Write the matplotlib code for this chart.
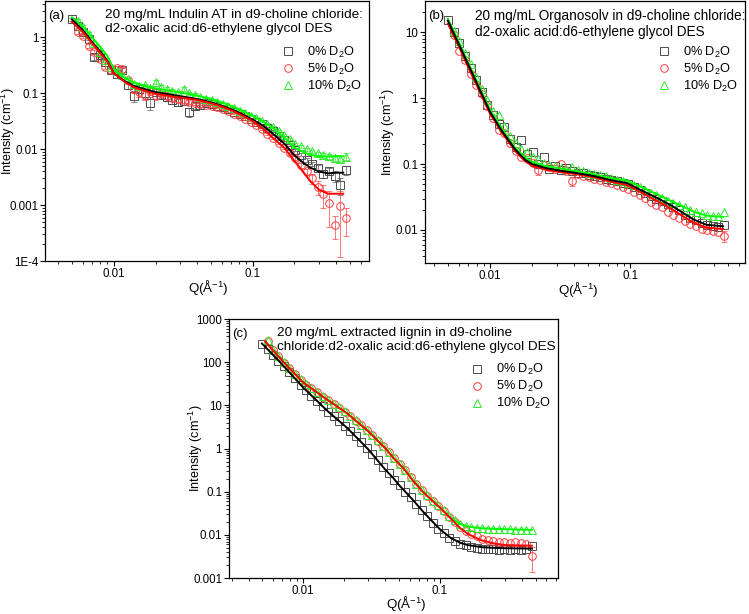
import numpy as np
import matplotlib
matplotlib.use("Agg")
import matplotlib.pyplot as plt
from matplotlib.ticker import LogLocator, FixedLocator, FixedFormatter, NullFormatter

plt.rcParams['font.family'] = ['Liberation Sans', 'DejaVu Sans']
plt.rcParams['mathtext.default'] = 'regular'

nan = np.nan

# Q grid of the measured points (1/A), shared by all panels
q = [0.0050, 0.00549, 0.00602, 0.00660, 0.00725, 0.00795, 0.00872, 0.00957, 0.0105, 0.0115,
     0.0126, 0.0139, 0.0152, 0.0167, 0.0183, 0.0201, 0.0220, 0.0242, 0.0265, 0.0291,
     0.0319, 0.0350, 0.0384, 0.0421, 0.0462, 0.0507, 0.0556, 0.0610, 0.0669, 0.0734,
     0.0806, 0.0884, 0.0970, 0.1064, 0.1167, 0.1281, 0.1405, 0.1541, 0.1691, 0.1855,
     0.2035, 0.2233, 0.2450, 0.2688, 0.2949, 0.3235, 0.3549, 0.3894, 0.4272, 0.4687]

labels = ["0% D$_2$O", "5% D$_2$O", "10% D$_2$O"]

# ---- panel (a): Indulin AT ----
a_black = [2.1, 1.6, 1.25, 0.95, 0.45, 0.48, 0.36, 0.26, 0.22, 0.26,
           0.14, 0.090, 0.12, 0.10, 0.068, 0.105, 0.095, 0.085, 0.075, 0.070,
           0.072, 0.046, 0.060, 0.062, 0.066, 0.064, 0.060, 0.056, 0.052, 0.047,
           0.043, 0.039, 0.035, 0.031, 0.028, 0.024, 0.021, 0.017, 0.0145, 0.012,
           0.0098, 0.0080, 0.0065, 0.0055, 0.0047, 0.0036, 0.0040, 0.0033, 0.0023, 0.0043]
a_black_err = [0.15, 0.1, 0.08, 0.06, 0.05, 0.04, 0.03, 0.03, 0.03, 0.03,
               0.02, 0.02, 0.02, 0.02, 0.018, 0.015, 0.012, 0.012, 0.01, 0.01,
               0.01, 0.009, 0.008, 0.006, 0.004, 0.003, 0.002, 0.002, 0.0015, 0.0015,
               0.001, 0.001, 0.001, 0.001, 0.0008, 0.0008, 0.0007, 0.0006, 0.0005, 0.0005,
               0.0005, 0.0005, 0.0005, 0.0005, 0.0005, 0.0006, 0.0006, 0.0007, 0.0008, 0.0008]
a_red = [nan, 1.25, 1.05, 0.70, 0.55, 0.42, 0.30, 0.26, 0.28, 0.27,
         0.17, 0.12, 0.105, 0.095, 0.110, 0.090, 0.100, 0.088, 0.082, 0.078,
         0.074, 0.071, 0.068, 0.065, 0.062, 0.060, 0.056, 0.052, 0.048, 0.043,
         0.039, 0.035, 0.031, 0.027, 0.023, 0.019, 0.016, 0.013, 0.0105, 0.0085,
         0.0070, 0.0052, 0.0040, 0.0030, 0.0021, 0.0016, 0.0011, 0.00045, 0.00095, 0.00058]
a_red_err = [0, 0.1, 0.08, 0.06, 0.05, 0.04, 0.03, 0.03, 0.03, 0.03,
             0.02, 0.02, 0.02, 0.02, 0.015, 0.012, 0.012, 0.01, 0.01, 0.008,
             0.008, 0.006, 0.005, 0.004, 0.003, 0.002, 0.002, 0.0015, 0.0015, 0.001,
             0.001, 0.001, 0.001, 0.0008, 0.0008, 0.0007, 0.0006, 0.0006, 0.0005, 0.0005,
             0.0005, 0.0005, 0.0005, 0.0006, 0.0006, 0.0007, 0.0007, 0.0002, 0.00083, 0.0003]
a_green = [nan, 2.0, 1.55, 1.15, 0.80, 0.55, 0.40, 0.30, 0.25, 0.21,
           0.18, 0.15, 0.135, 0.14, 0.125, 0.16, 0.13, 0.12, 0.11, 0.105,
           0.12, 0.10, 0.095, 0.085, 0.080, 0.075, 0.069, 0.064, 0.059, 0.054,
           0.049, 0.044, 0.040, 0.036, 0.032, 0.028, 0.025, 0.021, 0.018, 0.015,
           0.0125, 0.0112, 0.0100, 0.0092, 0.0085, 0.0078, 0.0075, 0.0070, 0.0068, 0.0074]
a_green_err = [0, 0.15, 0.1, 0.08, 0.06, 0.04, 0.03, 0.02, 0.02, 0.015,
               0.012, 0.01, 0.01, 0.01, 0.01, 0.012, 0.01, 0.008, 0.008, 0.007,
               0.008, 0.007, 0.006, 0.005, 0.004, 0.003, 0.003, 0.002, 0.002, 0.002,
               0.0015, 0.0015, 0.0012, 0.0012, 0.001, 0.001, 0.0009, 0.0008, 0.0007, 0.0006,
               0.0006, 0.0006, 0.0006, 0.0006, 0.0006, 0.0007, 0.0007, 0.0008, 0.0009, 0.001]

a_fit_q = [0.005, 0.006, 0.007, 0.008, 0.009, 0.010, 0.012, 0.014, 0.017, 0.020,
           0.025, 0.030, 0.035, 0.040, 0.050, 0.060, 0.070, 0.080, 0.10, 0.12,
           0.14, 0.17, 0.20, 0.23, 0.26, 0.30, 0.35, 0.40, 0.45]
a_fit_black = [2.1, 1.35, 0.82, 0.56, 0.38, 0.23, 0.165, 0.135, 0.118, 0.105,
               0.096, 0.089, 0.084, 0.079, 0.069, 0.060, 0.052, 0.045, 0.034, 0.026,
               0.019, 0.0125, 0.0078, 0.0058, 0.0047, 0.0040, 0.0037, 0.0038, 0.0038]
a_fit_red = [1.9, 1.25, 0.78, 0.53, 0.37, 0.23, 0.16, 0.128, 0.110, 0.098,
             0.090, 0.084, 0.080, 0.076, 0.067, 0.058, 0.050, 0.043, 0.032, 0.023,
             0.016, 0.0105, 0.0062, 0.0040, 0.0027, 0.0019, 0.0016, 0.0016, 0.0016]
a_fit_green = [2.3, 1.55, 1.0, 0.68, 0.47, 0.27, 0.19, 0.155, 0.135, 0.123,
               0.112, 0.104, 0.097, 0.091, 0.080, 0.069, 0.060, 0.052, 0.040, 0.031,
               0.024, 0.016, 0.0108, 0.0090, 0.0080, 0.0075, 0.0074, 0.0075, 0.0075]

# ---- panel (b): Organosolv ----
b_black = [15.2, 10.0, 6.8, 4.4, 2.9, 1.9, 1.25, 0.80, 0.55, 0.40,
           0.36, 0.24, 0.18, 0.23, 0.14, 0.15, 0.10, 0.13, 0.085, 0.092,
           0.080, 0.088, 0.078, 0.074, 0.072, 0.069, 0.066, 0.063, 0.060, 0.057,
           0.055, 0.052, 0.049, 0.045, 0.041, 0.037, 0.033, 0.030, 0.028, 0.025,
           0.022, 0.020, 0.017, 0.0150, 0.0140, 0.0128, 0.0120, 0.0115, 0.0112, 0.0120]
b_red = [nan, 9.0, 5.2, 3.8, 2.3, 1.6, 1.15, 0.75, 0.50, 0.33,
         0.30, 0.21, 0.16, 0.13, 0.125, 0.105, 0.080, 0.098, 0.090, 0.085,
         0.100, 0.078, 0.055, 0.070, 0.066, 0.063, 0.060, 0.057, 0.054, 0.051,
         0.048, 0.045, 0.042, 0.038, 0.034, 0.031, 0.027, 0.024, 0.022, 0.019,
         0.017, 0.015, 0.0135, 0.0125, 0.0115, 0.0105, 0.0100, 0.0095, 0.0092, 0.0080]
b_green = [nan, 10.5, 7.4, 4.9, 3.3, 2.1, 1.4, 0.95, 0.64, 0.55,
           0.38, 0.27, 0.21, 0.17, 0.15, 0.13, 0.12, 0.105, 0.098, 0.092,
           0.088, 0.085, 0.090, 0.082, 0.078, 0.074, 0.071, 0.068, 0.065, 0.062,
           0.058, 0.055, 0.052, 0.048, 0.045, 0.041, 0.037, 0.034, 0.031, 0.028,
           0.026, 0.024, 0.022, 0.020, 0.019, 0.018, 0.017, 0.0165, 0.0165, 0.0190]
b_red_err_q = [0.0220, 0.0384, 0.4687]
b_red_err_i = [0.080, 0.055, 0.0080]
b_red_err = [0.012, 0.009, 0.0015]

b_fit_q = [0.005, 0.006, 0.007, 0.008, 0.009, 0.010, 0.012, 0.0135, 0.015, 0.0178,
           0.020, 0.025, 0.031, 0.040, 0.055, 0.070, 0.095, 0.12, 0.164, 0.20,
           0.284, 0.35, 0.46]
b_fit_black = [15.0, 6.5, 3.2, 1.73, 1.0, 0.62, 0.33, 0.233, 0.17, 0.116,
               0.100, 0.087, 0.080, 0.074, 0.066, 0.058, 0.0515, 0.040, 0.029, 0.023,
               0.0144, 0.012, 0.0114]
b_fit_red = [13.5, 6.0, 2.9, 1.6, 0.93, 0.58, 0.31, 0.22, 0.16, 0.11,
             0.094, 0.082, 0.076, 0.071, 0.063, 0.055, 0.048, 0.037, 0.026, 0.0205,
             0.0128, 0.0108, 0.0104]
b_fit_green = [16.0, 7.0, 3.4, 1.85, 1.08, 0.67, 0.36, 0.25, 0.18, 0.125,
               0.107, 0.093, 0.086, 0.079, 0.070, 0.062, 0.056, 0.045, 0.033, 0.027,
               0.019, 0.0165, 0.0158]

# ---- panel (c): extracted lignin ----
c_black = [270, 199, 147, 109, 80, 58, 42, 30, 22.4, 16.9,
           12.8, 9.5, 7.2, 5.6, 4.4, 3.4, 2.6, 1.9, 1.42, 1.05,
           0.75, 0.53, 0.37, 0.27, 0.19, 0.14, 0.101, 0.074, 0.053, 0.038,
           0.027, 0.019, 0.0140, 0.0108, 0.0086, 0.0072, 0.0063, 0.0057, 0.0052, 0.0050,
           0.0048, 0.0046, 0.0047, 0.0045, 0.0046, 0.0044, 0.0046, 0.0045, 0.0047, 0.0055]
c_red = [nan, 310, 190, 136, 98, 72, 53, 39, 30.4, 24.7,
         20, 16, 13.1, 10.7, 8.8, 7.2, 5.7, 4.45, 3.5, 2.7,
         2.06, 1.53, 1.14, 0.83, 0.59, 0.43, 0.315, 0.215, 0.150, 0.108,
         0.081, 0.061, 0.047, 0.036, 0.026, 0.020, 0.015, 0.0125, 0.0105, 0.0092,
         0.0082, 0.0076, 0.0072, 0.0068, 0.0070, 0.0066, 0.0068, 0.0065, 0.0063, 0.0033]
c_green = [nan, 330, 195, 140, 100, 73, 54, 40, 31, 25,
           20.5, 16.3, 13.4, 10.9, 9.0, 7.3, 5.8, 4.5, 3.55, 2.75,
           2.1, 1.56, 1.16, 0.84, 0.60, 0.44, 0.32, 0.22, 0.152, 0.110,
           0.082, 0.062, 0.048, 0.037, 0.028, 0.022, 0.018, 0.0162, 0.0152, 0.0146,
           0.0142, 0.0140, 0.0139, 0.0137, 0.0136, 0.0134, 0.0133, 0.0131, 0.0130, 0.0132]
c_red_err_q = [0.4687]
c_red_err_i = [0.0033]
c_red_err = [0.0019]

c_fit_q = [0.0050, 0.0053, 0.007, 0.010, 0.015, 0.021, 0.030, 0.040, 0.0455, 0.050,
           0.055, 0.0636, 0.075, 0.080, 0.090, 0.10, 0.12, 0.14, 0.16, 0.20,
           0.25, 0.30, 0.47]
c_fit_black = [270, 225, 90, 26, 7.5, 3.0, 0.95, 0.32, 0.21, 0.145,
               0.105, 0.064, 0.035, 0.028, 0.019, 0.0135, 0.0085, 0.0066, 0.0058, 0.0052,
               0.0050, 0.0049, 0.0048]
c_fit_red = [nan, 300, 110, 34, 13.5, 6.5, 2.5, 1.0, 0.62, 0.45,
             0.33, 0.18, 0.10, 0.082, 0.058, 0.043, 0.024, 0.0145, 0.0105, 0.0075,
             0.0063, 0.0058, 0.0056]
c_fit_green = [nan, 300, 110, 34, 13.5, 6.5, 2.5, 1.0, 0.62, 0.45,
               0.33, 0.18, 0.10, 0.082, 0.058, 0.043, 0.025, 0.018, 0.0155, 0.0142,
               0.0138, 0.0135, 0.0130]

mk_col = ['#4d4d4d', '#ff3b3b', '#2ee82e']
fit_col = ['#000000', '#ff0000', '#00ff00']
markers = ['s', 'o', '^']


def style_axes(ax, ylim, yticks, yticklabels, ylab_x, xlab_x):
    ax.set_xscale('log')
    ax.set_yscale('log')
    ax.set_ylim(*ylim)
    ax.xaxis.set_major_locator(FixedLocator([0.01, 0.1]))
    ax.xaxis.set_major_formatter(FixedFormatter(['0.01', '0.1']))
    ax.xaxis.set_minor_locator(LogLocator(base=10, subs=np.arange(2, 10), numticks=20))
    ax.xaxis.set_minor_formatter(NullFormatter())
    ax.yaxis.set_major_locator(FixedLocator(yticks))
    ax.yaxis.set_major_formatter(FixedFormatter(yticklabels))
    ax.yaxis.set_minor_locator(LogLocator(base=10, subs=np.arange(2, 10), numticks=20))
    ax.yaxis.set_minor_formatter(NullFormatter())
    ax.tick_params(which='both', direction='out', top=False, right=False, labelsize=8.3, pad=1.5)
    ax.tick_params(which='major', length=3.5, width=0.8)
    ax.tick_params(which='minor', length=2.2, width=0.6)
    for s in ax.spines.values():
        s.set_linewidth(0.9)
    ax.set_xlabel("Q(Å$^{-1}$)", fontsize=9.6)
    ax.set_ylabel("Intensity (cm$^{-1}$)", fontsize=9.1)
    ax.yaxis.set_label_coords(ylab_x, 0.5)
    ax.xaxis.set_label_coords(xlab_x, -0.1)
    ax.xaxis.label.set_va('center')
    ax.yaxis.label.set_va('center')


def draw_data(ax, series, errs):
    hs = []
    for i, y in enumerate(series):
        h, = ax.plot(q, y, linestyle='none', marker=markers[i], ms=5.5, mfc='none',
                     mec=mk_col[i], mew=0.7)
        hs.append(h)
        if errs[i] is not None:
            eq, ei, ee = errs[i]
            ax.errorbar(eq, ei, yerr=ee, fmt='none', ecolor=mk_col[i], elinewidth=0.6,
                        capsize=2, capthick=0.6, alpha=0.8)
    return hs


def draw_fits(ax, fq, fits, order):
    for i in order:
        ax.plot(fq, fits[i], color=fit_col[i], lw=1.4)


def annotate(ax, tag, text, tx, hs, tsize):
    ax.text(0.01, 0.965, tag, transform=ax.transAxes, fontsize=9.5, va='top', ha='left')
    ax.text(tx, 0.97, text, transform=ax.transAxes, fontsize=tsize, va='top', ha='left',
            linespacing=1.22)
    ax.legend(hs, labels, loc='upper right', bbox_to_anchor=(1.0, 0.86), frameon=False,
              fontsize=9.2, handlelength=1.0, handletextpad=0.95, labelspacing=0.15,
              borderaxespad=0.15)


fig = plt.figure(figsize=(7.49, 6.14), dpi=100)
ax_a = fig.add_axes([0.0601, 0.5749, 0.4326, 0.4235])
ax_b = fig.add_axes([0.5674, 0.5717, 0.4272, 0.4267])
ax_c = fig.add_axes([0.3057, 0.0586, 0.4393, 0.4218])

# (a)
hs = draw_data(ax_a, [a_black, a_red, a_green],
               [(q, a_black, a_black_err), (q, a_red, a_red_err), (q, a_green, a_green_err)])
draw_fits(ax_a, a_fit_q, [a_fit_black, a_fit_red, a_fit_green], [2, 0, 1])
ax_a.set_xlim(0.0032, 0.69)
style_axes(ax_a, (1e-4, 4.5), [1e-4, 1e-3, 1e-2, 1e-1, 1],
           ['1E-4', '0.001', '0.01', '0.1', '1'], -0.114, 0.503)
annotate(ax_a, "(a)", "20 mg/mL Indulin AT in d9-choline chloride:\nd2-oxalic acid:d6-ethylene glycol DES", 0.185, hs, 9.7)

# (b)
hs = draw_data(ax_b, [b_black, b_red, b_green],
               [None, (b_red_err_q, b_red_err_i, b_red_err), None])
draw_fits(ax_b, b_fit_q, [b_fit_black, b_fit_red, b_fit_green], [2, 1, 0])
ax_b.set_xlim(0.00343, 0.66)
style_axes(ax_b, (0.00316, 29.8), [0.01, 0.1, 1, 10], ['0.01', '0.1', '1', '10'], -0.116, 0.48)
annotate(ax_b, "(b)", "20 mg/mL Organosolv in d9-choline chloride:\nd2-oxalic acid:d6-ethylene glycol DES", 0.156, hs, 9.8)

# (c)
hs = draw_data(ax_c, [c_black, c_red, c_green],
               [None, (c_red_err_q, c_red_err_i, c_red_err), None])
draw_fits(ax_c, c_fit_q, [c_fit_black, c_fit_red, c_fit_green], [0, 2, 1])
ax_c.set_xlim(0.00287, 0.73)
style_axes(ax_c, (0.001, 1000), [1e-3, 1e-2, 1e-1, 1, 10, 100, 1000],
           ['0.001', '0.01', '0.1', '1', '10', '100', '1000'], -0.099, 0.54)
annotate(ax_c, "(c)", "20 mg/mL extracted lignin in d9-choline\nchloride:d2-oxalic acid:d6-ethylene glycol DES", 0.145, hs, 9.7)

fig.savefig("out.png", dpi=100)
